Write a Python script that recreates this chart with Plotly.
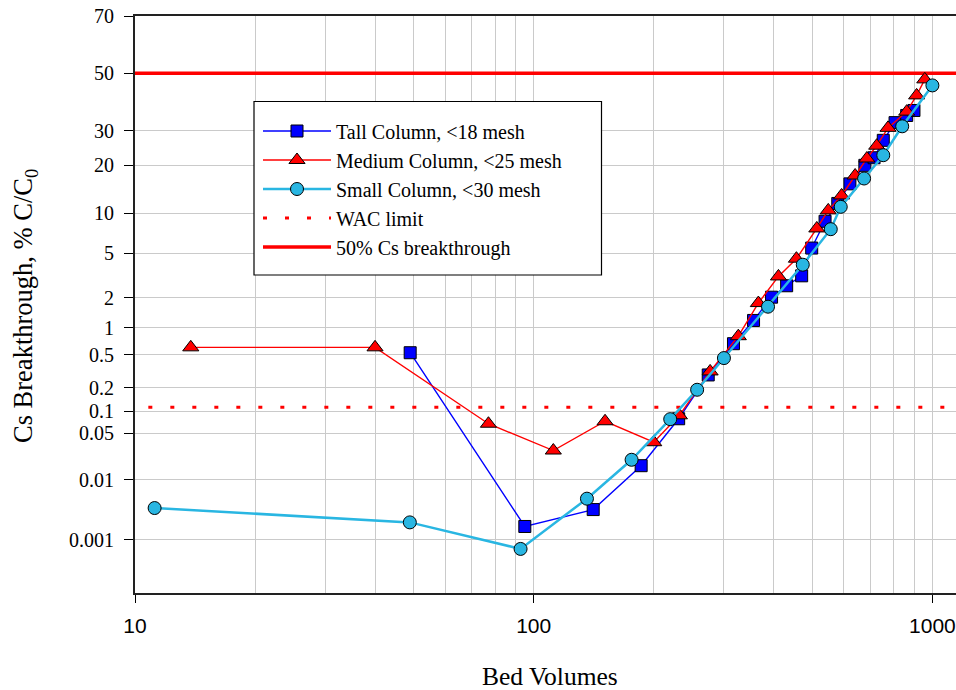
import statistics
import plotly.graph_objects as go

# ---------------- data ----------------
tall_bv = [49, 95, 141, 186, 231, 274, 317, 356, 395, 431, 470, 498, 538, 579, 621, 677, 714, 753, 806, 862, 899]
tall_pct = [0.53, 0.0017, 0.0033, 0.0166, 0.079, 0.29, 0.67, 1.19, 2.03, 2.6, 3.2, 5.5, 8.8, 11.7, 15.6, 20, 22, 27, 32.6, 35, 36.7]

med_bv = [13.8, 40, 77, 112, 151, 200, 232, 277, 326, 366, 411, 456, 513, 548, 592, 640, 685, 725, 774, 862, 913, 957]
med_pct = [0.61, 0.61, 0.0675, 0.028, 0.073, 0.037, 0.088, 0.32, 0.81, 1.78, 3.16, 4.5, 7.8, 10.5, 13.2, 17.5, 21.8, 25.4, 30.9, 36.3, 42, 47.8]

small_bv = [11.2, 48.9, 92.7, 136, 176, 220, 257, 300, 387, 473, 556, 589, 674, 753, 840, 1000]
small_pct = [0.0035, 0.002, 0.00068, 0.005, 0.0204, 0.078, 0.19, 0.46, 1.64, 4.0, 7.7, 11.1, 16.8, 22.7, 31.4, 45.6]

wac_bv = [10.8, 1200]
wac_pct = [0.113, 0.113]

half_bv = [10, 1200]
half_pct = [50, 50]

x_major_ticks = [10, 100, 1000]
x_minor_ticks = [20, 30, 40, 50, 60, 70, 80, 90, 200, 300, 400, 500, 600, 700, 800, 900]
y_tick_pct = [0.001, 0.01, 0.05, 0.1, 0.2, 0.5, 1, 2, 5, 10, 20, 30, 50, 70]
y_tick_labels = ["0.001", "0.01", "0.05", "0.1", "0.2", "0.5", "1", "2", "5", "10", "20", "30", "50", "70"]
y_min_pct, y_max_pct = 0.0001, 70

# ---------------- probability (probit) scale ----------------
_nd = statistics.NormalDist()


def probit(pct_list):
    return [_nd.inv_cdf(p / 100.0) for p in pct_list]


SERIF = "Liberation Serif, Times New Roman, serif"
SANS = "Liberation Sans, Arial, sans-serif"
GRID = "#CACACA"
CYAN = "#29B6E2"

fig = go.Figure()

fig.add_trace(go.Scatter(
    x=half_bv, y=probit(half_pct), mode="lines", name="50% Cs breakthrough",
    line=dict(color="#FF0000", width=3.5), legendrank=5))
fig.add_trace(go.Scatter(
    x=wac_bv, y=probit(wac_pct), mode="lines", name="WAC limit",
    line=dict(color="#FF0000", width=3, dash="4px,18px"), legendrank=4))
fig.add_trace(go.Scatter(
    x=tall_bv, y=probit(tall_pct), mode="lines+markers", name="Tall Column, <18 mesh",
    line=dict(color="#0000FF", width=1.4),
    marker=dict(symbol="square", size=12, color="#0000FF", line=dict(color="black", width=1)),
    legendrank=1))
fig.add_trace(go.Scatter(
    x=med_bv, y=probit(med_pct), mode="lines+markers", name="Medium Column, <25 mesh",
    line=dict(color="#FF0000", width=1.4),
    marker=dict(symbol="triangle-up", size=14, color="#FF0000", line=dict(color="black", width=1)),
    legendrank=2))
fig.add_trace(go.Scatter(
    x=small_bv, y=probit(small_pct), mode="lines+markers", name="Small Column, <30 mesh",
    line=dict(color=CYAN, width=2.5),
    marker=dict(symbol="circle", size=13, color=CYAN, line=dict(color="black", width=1)),
    legendrank=3))

PLOT_L, PLOT_R, PLOT_T, PLOT_B = 135, 956, 16, 593
W, H = 956, 690
pw, ph = PLOT_R - PLOT_L, PLOT_B - PLOT_T


def px_x(px):
    return (px - PLOT_L) / pw


def px_y(py):
    return 1 - (py - PLOT_T) / ph


# legend frame
fig.add_shape(type="rect", xref="paper", yref="paper",
              x0=px_x(254), x1=px_x(601.5), y0=px_y(275), y1=px_y(101.5),
              line=dict(color="black", width=1.2), fillcolor="white", layer="above")

# axis titles
fig.add_annotation(text="Bed Volumes", xref="paper", yref="paper",
                   x=px_x(549.5), y=px_y(676.5), xanchor="center", yanchor="middle",
                   showarrow=False, font=dict(family=SERIF, size=25.5, color="black"))
fig.add_annotation(text="Cs Breakthrough, % C/C<sub>0</sub>", xref="paper", yref="paper",
                   x=px_x(25), y=px_y(306), xanchor="center", yanchor="middle", textangle=-90,
                   showarrow=False, font=dict(family=SERIF, size=26.5, color="black"))

fig.update_layout(
    width=W, height=H,
    margin=dict(l=PLOT_L, r=W - PLOT_R, t=PLOT_T, b=H - PLOT_B),
    paper_bgcolor="white", plot_bgcolor="white",
    font=dict(family=SERIF, color="black"),
    showlegend=True,
    legend=dict(x=px_x(258), y=px_y(111.5), xanchor="left", yanchor="top",
                bgcolor="rgba(0,0,0,0)", borderwidth=0,
                font=dict(family=SERIF, size=20, color="black"),
                itemwidth=68, tracegroupgap=0),
    xaxis=dict(
        type="log", range=[1, 1 + (PLOT_R - PLOT_L) / 398.7],
        tickvals=x_major_ticks, ticktext=[str(v) for v in x_major_ticks],
        ticks="outside", ticklen=8, tickwidth=1, tickcolor="black",
        tickfont=dict(family=SANS, size=21, color="black"), ticklabelstandoff=5,
        showline=True, linecolor="#222", linewidth=2, mirror=True,
        showgrid=True, gridcolor=GRID, gridwidth=1, zeroline=False,
        minor=dict(tickvals=x_minor_ticks, showgrid=True, gridcolor=GRID, gridwidth=1, ticks=""),
    ),
    yaxis=dict(
        range=probit([y_min_pct, y_max_pct]),
        tickvals=probit(y_tick_pct), ticktext=y_tick_labels,
        ticks="outside", ticklen=9, tickwidth=1, tickcolor="black",
        tickfont=dict(family=SERIF, size=20, color="black"), ticklabelstandoff=6,
        showline=True, linecolor="#222", linewidth=2, mirror=False,
        showgrid=True, gridcolor=GRID, gridwidth=1, zeroline=False,
    ),
)

fig.write_html("out.html")
